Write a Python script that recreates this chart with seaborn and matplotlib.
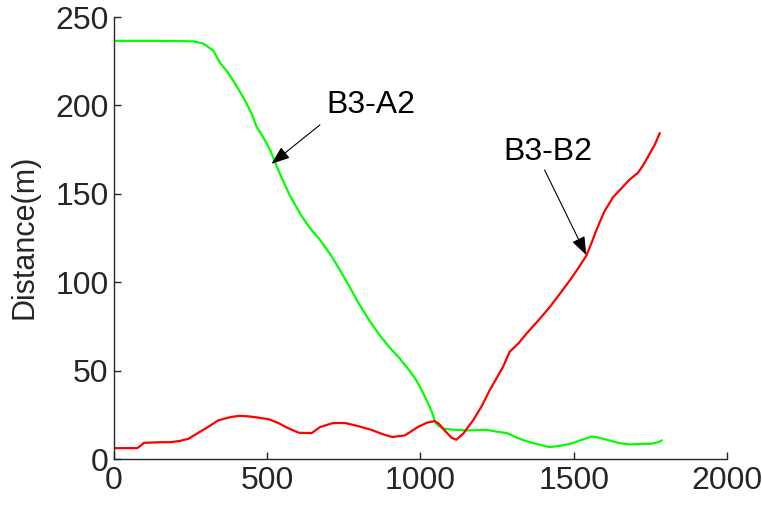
import numpy as np
import pandas as pd
import seaborn as sns
import matplotlib.pyplot as plt

# B3-A2 (green)
a2_x = [0, 100, 215, 260, 291, 324, 346, 370, 389, 410, 433, 450, 465, 487, 509, 530,
        550, 574, 610, 639, 672, 705, 737, 770, 802, 835, 867, 900, 932, 960, 985,
        1010, 1030, 1041, 1047, 1058, 1074, 1110, 1157, 1213, 1250, 1282, 1310, 1337,
        1380, 1421, 1455, 1490, 1525, 1559, 1580, 1615, 1650, 1684, 1720, 1753, 1775,
        1788]
a2_y = [236.5, 236.5, 236.4, 236.2, 235, 231, 224, 219, 214, 208, 201, 195, 188,
        182, 175, 166, 158, 149, 138, 130.7, 124, 116, 107, 97, 87, 78, 70, 63, 57,
        51, 45, 37, 29.5, 25, 21, 19, 17.2, 16.6, 16.2, 16.6, 15.5, 14.7, 12.5, 10.6,
        8.5, 6.8, 7.5, 8.7, 10.8, 12.8, 12.2, 10.6, 9.0, 8.3, 8.6, 8.7, 9.5, 10.6]

# B3-B2 (red)
b2_x = [0, 40, 76, 90, 97, 140, 187, 215, 243, 284, 310, 340, 381, 410, 437, 470,
        506, 535, 561, 585, 603, 645, 672, 714, 755, 800, 839, 875, 908, 949, 991,
        1020, 1046, 1060, 1080, 1102, 1117, 1140, 1172, 1200, 1226, 1269, 1291, 1320,
        1346, 1385, 1422, 1455, 1487, 1515, 1541, 1560, 1574, 1600, 1628, 1655, 1682,
        1710, 1727, 1749, 1765, 1781]
b2_y = [6.2, 6.2, 6.2, 8.0, 9.2, 9.5, 9.6, 10.3, 11.5, 15.8, 18.5, 21.9, 23.8, 24.5,
        24.2, 23.5, 22.5, 20.5, 18.1, 16.2, 14.9, 14.7, 18.1, 20.4, 20.4, 18.5, 16.6,
        14.2, 12.5, 13.4, 18.1, 20.5, 21.5, 20.0, 16.0, 12.0, 11.0, 14.5, 22, 30, 39,
        52, 60.7, 65.5, 71, 78.5, 86, 93.5, 101, 108, 115, 123, 129.5, 140, 148, 153,
        158, 162, 166.3, 173, 178, 184.4]

a2 = pd.DataFrame({"x": a2_x, "y": a2_y})
b2 = pd.DataFrame({"x": b2_x, "y": b2_y})

sns.set_theme(style="ticks")
plt.rcParams['font.family'] = ['Liberation Sans', 'DejaVu Sans']

fig = plt.figure(figsize=(7.62, 5.09), dpi=100)
ax = fig.add_axes([0.1496, 0.098, 0.8044, 0.8686])

sns.lineplot(data=a2, x="x", y="y", color="#00ff00", linewidth=1.6, ax=ax)
sns.lineplot(data=b2, x="x", y="y", color="#ff0000", linewidth=1.6, ax=ax)

ax.set_xlim(0, 2000)
ax.set_ylim(0, 250)
ax.set_xticks([0, 500, 1000, 1500, 2000])
ax.set_yticks([0, 50, 100, 150, 200, 250])
ax.set_xlabel("")
ax.set_ylabel("Distance(m)", fontsize=22, color="#262626")
ax.yaxis.set_label_coords(-0.122, 0.502)
ax.tick_params(direction="in", length=5, width=1, colors="#262626",
               labelsize=23)
ax.tick_params(axis="y", pad=4)
ax.tick_params(axis="x", pad=5)
for side in ["top", "right"]:
    ax.spines[side].set_visible(False)
for side in ["left", "bottom"]:
    ax.spines[side].set_color("#262626")
    ax.spines[side].set_linewidth(1)

arrow = dict(arrowstyle="-|>,head_length=0.8,head_width=0.3", color="black",
             lw=0.8, mutation_scale=14, shrinkA=0, shrinkB=0)
ax.text(838, 200, "B3-A2", fontsize=23, ha="center", va="center", color="black")
ax.annotate("", xy=(514, 167), xytext=(672, 189), arrowprops=arrow)
ax.text(1416, 173.6, "B3-B2", fontsize=23, ha="center", va="center", color="black")
ax.annotate("", xy=(1541, 115.4), xytext=(1405, 163.5), arrowprops=arrow)

fig.savefig("out.png", dpi=100)
